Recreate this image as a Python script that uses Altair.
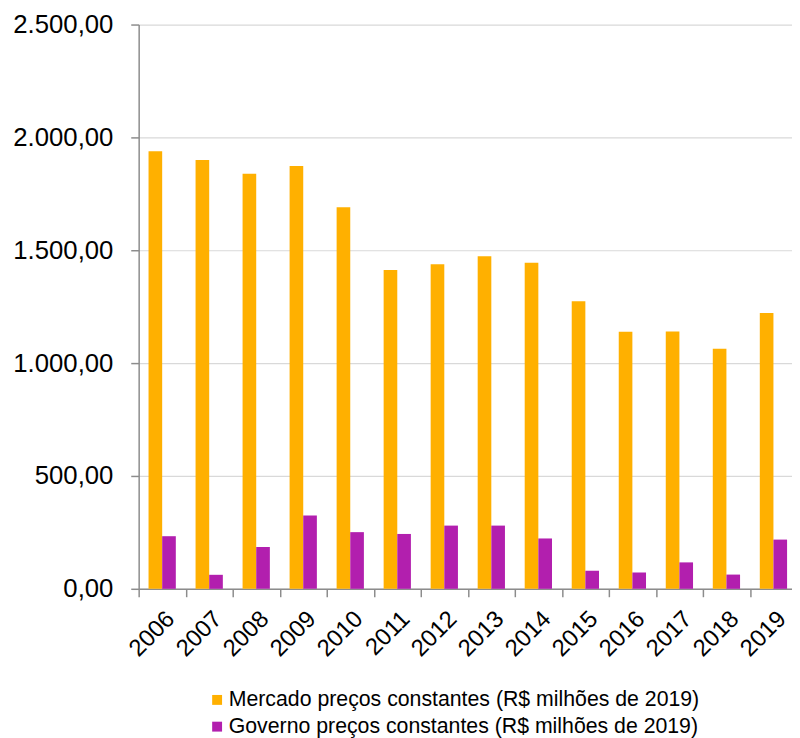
import altair as alt
import pandas as pd

years = ["2006", "2007", "2008", "2009", "2010", "2011", "2012",
         "2013", "2014", "2015", "2016", "2017", "2018", "2019"]
mercado = [1939, 1900, 1839, 1873, 1691, 1413, 1438, 1473, 1445, 1274, 1139, 1140, 1064, 1222]
governo = [233, 62, 185, 325, 251, 243, 280, 280, 223, 80, 72, 117, 63, 218]
series = ["Mercado preços constantes (R$ milhões de 2019)",
          "Governo preços constantes (R$ milhões de 2019)"]
colors = ["#FFB000", "#B21FAE"]
y_ticks = [0, 500, 1000, 1500, 2000, 2500]

rows = []
for name, vals in zip(series, [mercado, governo]):
    for yr, v in zip(years, vals):
        rows.append({"ano": yr, "serie": name, "valor": v})
df = pd.DataFrame(rows)

W, H = 657, 570
RANGE_W = 665
step = RANGE_W / len(years)
FONT = "Liberation Sans"
GRAY = "#8c8c8c"

label_expr = "replace(replace(replace(format(datum.value, ',.2f'), ',', '#'), '.', ','), '#', '.')"

chart = alt.Chart(df).mark_bar().encode(
    x=alt.X("ano:N", sort=years,
            scale=alt.Scale(paddingInner=0.42, paddingOuter=0.21, range=[0, RANGE_W]),
            axis=alt.Axis(title=None, labelAngle=-45, labelAlign="right", labelBaseline="top",
                          labelFontSize=24, labelFont=FONT,
                          labelColor="black", domainColor=GRAY, domainWidth=1.5,
                          tickColor=GRAY, tickWidth=1.5, tickSize=8,
                          tickOffset=-step / 2, labelOffset=step / 2,
                          labelPadding=10, grid=False)),
    xOffset=alt.XOffset("serie:N", sort=series, scale=alt.Scale(domain=series)),
    y=alt.Y("valor:Q", scale=alt.Scale(domain=[0, 2500], nice=False),
            axis=alt.Axis(title=None, values=y_ticks, labelExpr=label_expr,
                          labelFontSize=26, labelFont=FONT, labelColor="black",
                          domainColor=GRAY, domainWidth=1.5, tickColor=GRAY,
                          tickWidth=1.5, tickSize=8, labelPadding=18,
                          gridColor="#d9d9d9", gridWidth=1.2)),
    color=alt.Color("serie:N", sort=series,
                    scale=alt.Scale(domain=series, range=colors),
                    legend=alt.Legend(title=None, orient="none", legendX=68.5, legendY=671.5,
                                      direction="vertical", symbolType="square",
                                      symbolSize=100, symbolStrokeWidth=0,
                                      labelFontSize=21.5, labelFont=FONT, labelColor="black",
                                      labelLimit=700, rowPadding=4, labelOffset=1,
                                      padding=0)),
).properties(
    width=W, height=H,
    autosize=alt.AutoSizeParams(type="none"),
    padding={"left": 132, "top": 13, "right": 3, "bottom": 147},
).configure_view(stroke=None)

chart.save("out.html", embed_options={"renderer": "svg", "actions": False})
